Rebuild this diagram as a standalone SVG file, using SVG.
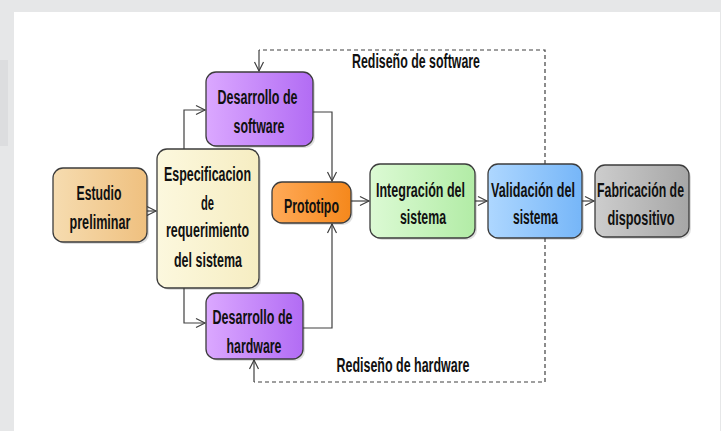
<svg xmlns="http://www.w3.org/2000/svg" width="721" height="431" viewBox="0 0 721 431">
<style>
.n{stroke:#3c3c3c;stroke-width:1.3}
.sh{fill:#000;opacity:0.13}
.t{font-family:"Liberation Sans Narrow","Liberation Sans",Arial,sans-serif;font-weight:bold;font-size:19.5px;fill:#111;text-anchor:middle}
.c{fill:none;stroke:#404040;stroke-width:1.2}
.d{fill:none;stroke:#404040;stroke-width:1.2;stroke-dasharray:4 3}
</style>
<defs>
<linearGradient id="gEst" x1="0" y1="0" x2="1" y2="0"><stop offset="0" stop-color="#f6dcb0"/><stop offset="1" stop-color="#efc07f"/></linearGradient>
<linearGradient id="gEsp" x1="0" y1="0" x2="1" y2="0"><stop offset="0" stop-color="#fcf8de"/><stop offset="1" stop-color="#f6edc2"/></linearGradient>
<linearGradient id="gDes" x1="0" y1="0" x2="1" y2="0"><stop offset="0" stop-color="#dba8ff"/><stop offset="1" stop-color="#b26cf4"/></linearGradient>
<linearGradient id="gPro" x1="0" y1="0" x2="1" y2="0"><stop offset="0" stop-color="#ffaa58"/><stop offset="1" stop-color="#f5881c"/></linearGradient>
<linearGradient id="gInt" x1="0" y1="0" x2="1" y2="0"><stop offset="0" stop-color="#dcfad4"/><stop offset="1" stop-color="#b2eca6"/></linearGradient>
<linearGradient id="gVal" x1="0" y1="0" x2="1" y2="0"><stop offset="0" stop-color="#aed7ff"/><stop offset="1" stop-color="#76b6f8"/></linearGradient>
<linearGradient id="gFab" x1="0" y1="0" x2="1" y2="0"><stop offset="0" stop-color="#cdcdcd"/><stop offset="1" stop-color="#a6a6a6"/></linearGradient>
<marker id="ar" markerWidth="12" markerHeight="12" refX="10" refY="6" orient="auto" markerUnits="userSpaceOnUse"><path d="M1,1.5 L10,6 L1,10.5" fill="none" stroke="#404040" stroke-width="1.2"/></marker>
</defs>
<rect x="0" y="0" width="721" height="431" fill="#e6e7e8"/>
<rect x="0" y="60" width="8" height="86" fill="#dcdddf"/>
<rect x="14" y="12" width="706" height="419" fill="#ffffff"/>

<g id="connectors">
<path class="c" d="M147,211 H156" marker-end="url(#ar)"/>
<path class="c" d="M184,149 V110 H205" marker-end="url(#ar)"/>
<path class="c" d="M184,288 V323 H205" marker-end="url(#ar)"/>
<path class="c" d="M313,112 H332 V181" marker-end="url(#ar)"/>
<path class="c" d="M303,328 H332 V224" marker-end="url(#ar)"/>
<path class="c" d="M351,201 H369" marker-end="url(#ar)"/>
<path class="c" d="M475,201 H487" marker-end="url(#ar)"/>
<path class="c" d="M582,201 H594" marker-end="url(#ar)"/>
<path class="d" d="M545,164 V50 H259"/>
<path class="c" d="M259,50 V71" marker-end="url(#ar)"/>
<path class="d" d="M545,238 V382 H254"/>
<path class="c" d="M254,382 V360" marker-end="url(#ar)"/>
<text class="t" x="416" y="67.5" textLength="128" lengthAdjust="spacingAndGlyphs">Rediseño de software</text>
<text class="t" x="403" y="371.5" textLength="133" lengthAdjust="spacingAndGlyphs">Rediseño de hardware</text>
</g>

<g id="estudio">
<rect class="sh" x="55" y="170" width="94" height="74" rx="10"/>
<rect class="n" x="53" y="168" width="94" height="74" rx="10" fill="url(#gEst)"/>
<text class="t" x="99" y="200" textLength="45" lengthAdjust="spacingAndGlyphs">Estudio</text>
<text class="t" x="100" y="228.5" textLength="61" lengthAdjust="spacingAndGlyphs">preliminar</text>
</g>

<g id="especificacion">
<rect class="sh" x="159" y="151" width="102" height="139" rx="10"/>
<rect class="n" x="157" y="149" width="102" height="139" rx="10" fill="url(#gEsp)"/>
<text class="t" x="207.5" y="180.5" textLength="87" lengthAdjust="spacingAndGlyphs">Especificacion</text>
<text class="t" x="207.5" y="209.5" textLength="13" lengthAdjust="spacingAndGlyphs">de</text>
<text class="t" x="207.5" y="236.5" textLength="83" lengthAdjust="spacingAndGlyphs">requerimiento</text>
<text class="t" x="208" y="266.5" textLength="68" lengthAdjust="spacingAndGlyphs">del sistema</text>
</g>

<g id="software">
<rect class="sh" x="208" y="74" width="107" height="74" rx="10"/>
<rect class="n" x="206" y="72" width="107" height="74" rx="10" fill="url(#gDes)"/>
<text class="t" x="257.5" y="104" textLength="80" lengthAdjust="spacingAndGlyphs">Desarrollo de</text>
<text class="t" x="259" y="132.5" textLength="51" lengthAdjust="spacingAndGlyphs">software</text>
</g>

<g id="hardware">
<rect class="sh" x="208" y="295" width="97" height="66" rx="10"/>
<rect class="n" x="206" y="293" width="97" height="66" rx="10" fill="url(#gDes)"/>
<text class="t" x="252.5" y="324" textLength="80" lengthAdjust="spacingAndGlyphs">Desarrollo de</text>
<text class="t" x="254" y="353" textLength="55" lengthAdjust="spacingAndGlyphs">hardware</text>
</g>

<g id="prototipo">
<rect class="sh" x="274" y="184" width="79" height="41" rx="10"/>
<rect class="n" x="272" y="182" width="79" height="41" rx="10" fill="url(#gPro)"/>
<text class="t" x="311.5" y="213" textLength="55" lengthAdjust="spacingAndGlyphs">Prototipo</text>
</g>

<g id="integracion">
<rect class="sh" x="372" y="166" width="105" height="74" rx="10"/>
<rect class="n" x="370" y="164" width="105" height="74" rx="10" fill="url(#gInt)"/>
<text class="t" x="420.5" y="196.5" textLength="89" lengthAdjust="spacingAndGlyphs">Integración del</text>
<text class="t" x="423" y="224" textLength="46" lengthAdjust="spacingAndGlyphs">sistema</text>
</g>

<g id="validacion">
<rect class="sh" x="490" y="166" width="94" height="74" rx="10"/>
<rect class="n" x="488" y="164" width="94" height="74" rx="10" fill="url(#gVal)"/>
<text class="t" x="533" y="196.5" textLength="84" lengthAdjust="spacingAndGlyphs">Validación del</text>
<text class="t" x="535.5" y="224" textLength="45" lengthAdjust="spacingAndGlyphs">sistema</text>
</g>

<g id="fabricacion">
<rect class="sh" x="597" y="167" width="94" height="72" rx="10"/>
<rect class="n" x="595" y="165" width="94" height="72" rx="10" fill="url(#gFab)"/>
<text class="t" x="640.5" y="197" textLength="87" lengthAdjust="spacingAndGlyphs">Fabricación de</text>
<text class="t" x="641" y="225" textLength="67" lengthAdjust="spacingAndGlyphs">dispositivo</text>
</g>
</svg>
